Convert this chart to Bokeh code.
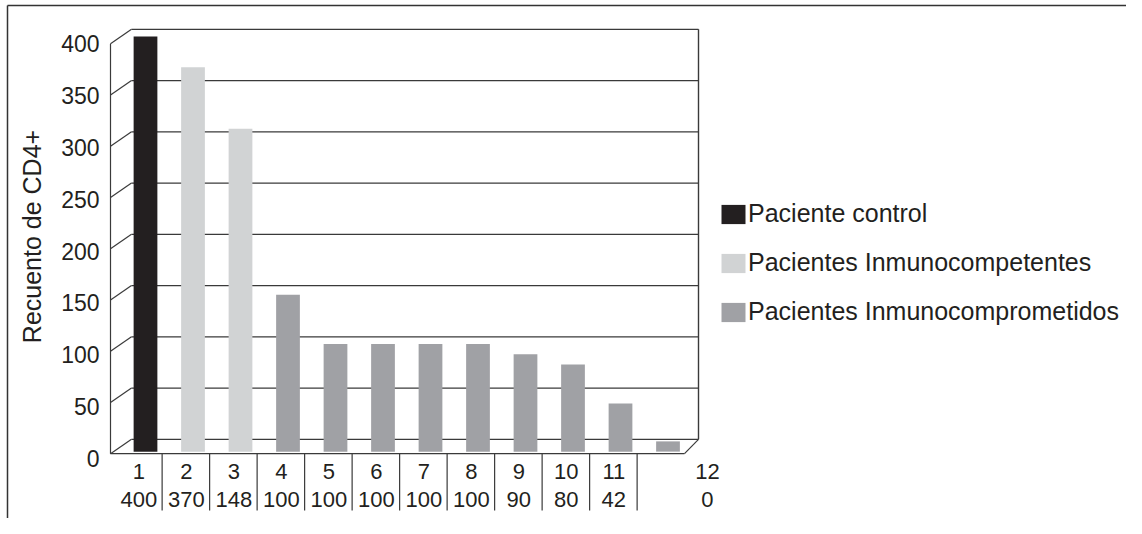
import math
from bokeh.plotting import figure
from bokeh.models import Range1d, ColumnDataSource, Legend, LegendItem
from bokeh.core.properties import value
from bokeh.embed import file_html
from bokeh.resources import INLINE

# ---------------- data ----------------
patients = ["1", "2", "3", "4", "5", "6", "7", "8", "9", "10", "11", "12"]
cd4_counts = [400, 370, 310, 148, 100, 100, 100, 100, 90, 80, 42, 5]
patient_groups = ["Paciente control",
                  "Pacientes Inmunocompetentes", "Pacientes Inmunocompetentes",
                  "Pacientes Inmunocomprometidos", "Pacientes Inmunocomprometidos",
                  "Pacientes Inmunocomprometidos", "Pacientes Inmunocomprometidos",
                  "Pacientes Inmunocomprometidos", "Pacientes Inmunocomprometidos",
                  "Pacientes Inmunocomprometidos", "Pacientes Inmunocomprometidos",
                  "Pacientes Inmunocomprometidos"]
table_values = ["400", "370", "148", "100", "100", "100", "100", "100", "90", "80", "42", "0"]
group_names = ["Paciente control", "Pacientes Inmunocompetentes", "Pacientes Inmunocomprometidos"]
group_colors = ["#231f20", "#d1d3d4", "#a0a1a5"]
y_ticks = [0, 50, 100, 150, 200, 250, 300, 350, 400]
y_title = "Recuento de CD4+"

# ---------------- layout ----------------
W, H = 1126, 518
PAGE = 0
X_PX, X1_PAGE = 47.5, 145.0      # px per category, page x of category 1
Y_PX, Y0_PAGE = 1.025, 446.0     # px per unit, page y of value 0 (bar plane)


def dx(px):
    return 1 + (px - X1_PAGE) / X_PX


def dy(py):
    return (Y0_PAGE - py) / Y_PX


BACK_DY, FRONT_DY = 7.0, -7.0
BACK_LEFT, FRONT_LEFT = dx(131), dx(110)
BACK_RIGHT, FRONT_RIGHT = dx(698), dx(684)
BAR_WIDTH = 0.5
BAR_BOTTOM = -5.0
SEP_OFFSET = 0.35
TABLE_DX = -0.14
LAST_LABEL_EXTRA = 0.97
LINE_COLOR = "#3a3a3a"
TEXT_COLOR = "#231f20"
FONT = "Liberation Sans"

p = figure(width=W, height=H, output_backend="svg", toolbar_location=None,
           x_range=Range1d(dx(PAGE), dx(PAGE + W)),
           y_range=Range1d(dy(PAGE + H), dy(PAGE)),
           x_axis_location=None, y_axis_location=None, min_border=0)
p.grid.visible = False
p.outline_line_color = None
p.background_fill_color = "white"

# outer frame (top and left)
p.segment(x0=[dx(7)], y0=[dy(5)], x1=[dx(PAGE + W)], y1=[dy(5)],
          line_color="#333333", line_width=1.5)
p.segment(x0=[dx(7)], y0=[dy(5)], x1=[dx(7)], y1=[dy(PAGE + H)],
          line_color="#333333", line_width=1.5)

# back wall gridlines
p.segment(x0=[BACK_LEFT] * len(y_ticks), x1=[BACK_RIGHT] * len(y_ticks),
          y0=[g + BACK_DY for g in y_ticks], y1=[g + BACK_DY for g in y_ticks],
          line_color=LINE_COLOR, line_width=1.2)
# left side diagonals
p.segment(x0=[FRONT_LEFT] * len(y_ticks), x1=[BACK_LEFT] * len(y_ticks),
          y0=[g + FRONT_DY for g in y_ticks], y1=[g + BACK_DY for g in y_ticks],
          line_color=LINE_COLOR, line_width=1.2)
# front vertical axis
p.segment(x0=[FRONT_LEFT], x1=[FRONT_LEFT], y0=[y_ticks[0] + FRONT_DY], y1=[y_ticks[-1] + FRONT_DY],
          line_color=LINE_COLOR, line_width=1.2)
# right wall edge
p.segment(x0=[BACK_RIGHT], x1=[BACK_RIGHT], y0=[y_ticks[0] + BACK_DY], y1=[y_ticks[-1] + BACK_DY],
          line_color=LINE_COLOR, line_width=1.4)
# floor front edge & right diagonal
p.segment(x0=[FRONT_LEFT, FRONT_RIGHT], x1=[FRONT_RIGHT, BACK_RIGHT],
          y0=[y_ticks[0] + FRONT_DY, y_ticks[0] + FRONT_DY], y1=[y_ticks[0] + FRONT_DY, y_ticks[0] + BACK_DY],
          line_color=LINE_COLOR, line_width=1.2)

# bars
xs = list(range(1, len(patients) + 1))
renderers = []
for name, color in zip(group_names, group_colors):
    sel = [k for k, g in enumerate(patient_groups) if g == name]
    src = ColumnDataSource(dict(x=[xs[k] for k in sel], top=[cd4_counts[k] for k in sel],
                                bottom=[BAR_BOTTOM] * len(sel)))
    r = p.vbar(x="x", top="top", bottom="bottom", width=BAR_WIDTH, source=src,
               fill_color=color, line_color=None)
    renderers.append(r)

# table separators
sep_x = [i + SEP_OFFSET for i in xs[:-1]]
p.segment(x0=sep_x, x1=sep_x, y0=[FRONT_DY] * len(sep_x), y1=[dy(510)] * len(sep_x),
          line_color=LINE_COLOR, line_width=1.2)

# y tick labels
p.text(x=[dx(99)] * len(y_ticks), y=[g * 1.012 - 11.7 for g in y_ticks],
       text=[str(g) for g in y_ticks], text_align="right", text_baseline="middle",
       text_font=value(FONT), text_font_size="23px", text_color=TEXT_COLOR)

# y title
p.text(x=[dx(31)], y=[dy(236)], text=[y_title], angle=math.pi / 2,
       text_align="center", text_baseline="middle",
       text_font=value(FONT), text_font_size="25px", text_color=TEXT_COLOR)

# data table labels
lab_x = [i + TABLE_DX for i in xs]
lab_x[-1] += LAST_LABEL_EXTRA
p.text(x=lab_x, y=[dy(470.5)] * len(xs), text=patients, text_align="center", text_baseline="middle",
       text_font=value(FONT), text_font_size="22px", text_color=TEXT_COLOR)
p.text(x=lab_x, y=[dy(499)] * len(xs), text=table_values, text_align="center", text_baseline="middle",
       text_font=value(FONT), text_font_size="22px", text_color=TEXT_COLOR)

legend = Legend(items=[LegendItem(label=n, renderers=[r]) for n, r in zip(group_names, renderers)],
                location=(718, 192), orientation="vertical",
                glyph_width=30, glyph_height=24, label_height=24, spacing=20,
                label_standoff=0, padding=0, margin=0,
                border_line_color=None, background_fill_alpha=0,
                label_text_font=FONT, label_text_font_size="25px", label_text_color=TEXT_COLOR)
p.add_layout(legend, "center")

open("out.html", "w").write(file_html(p, INLINE))
